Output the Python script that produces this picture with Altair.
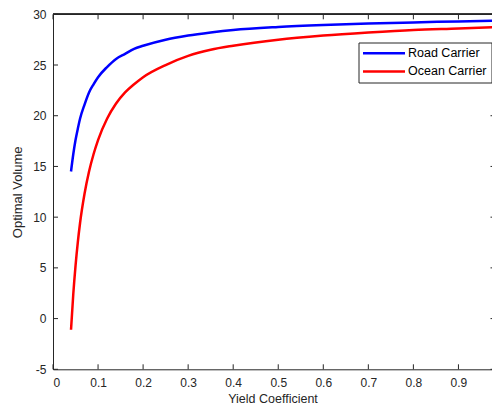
import altair as alt
import pandas as pd

# ---- data ----
yield_coef = [0.04, 0.045, 0.05, 0.055, 0.06, 0.07, 0.08, 0.09, 0.10, 0.12, 0.14,
              0.16, 0.18, 0.20, 0.25, 0.30, 0.35, 0.40, 0.50, 0.60, 0.70, 0.80,
              0.90, 0.99]
road_carrier = [14.5, 16.2, 17.6, 18.7, 19.7, 21.1, 22.3, 23.1, 23.8, 24.8, 25.6,
                26.1, 26.6, 26.9, 27.5, 27.9, 28.2, 28.45, 28.75, 28.95, 29.1, 29.2,
                29.3, 29.37]
ocean_carrier = [-1.1, 2.4, 5.2, 7.5, 9.4, 12.3, 14.5, 16.2, 17.6, 19.7, 21.2,
                 22.3, 23.1, 23.8, 25.0, 25.9, 26.5, 26.9, 27.5, 27.9, 28.2, 28.45,
                 28.6, 28.75]
series_names = ["Road Carrier", "Ocean Carrier"]
series_colors = ["#0000ff", "#ff0000"]
x_ticks = [0, 0.1, 0.2, 0.3, 0.4, 0.5, 0.6, 0.7, 0.8, 0.9]
y_ticks = [-5, 0, 5, 10, 15, 20, 25, 30]

W, H = 439, 355
X_MAX = 0.9745
FONT = "Liberation Sans"
AX = "#262626"

rows = []
for x, r, o in zip(yield_coef, road_carrier, ocean_carrier):
    rows.append({"x": x, "y": r, "series": series_names[0]})
    rows.append({"x": x, "y": o, "series": series_names[1]})
df = pd.DataFrame(rows)
xt = pd.DataFrame({"t": x_ticks})
yt = pd.DataFrame({"t": y_ticks})

xscale = alt.Scale(domain=[0, X_MAX], nice=False, zero=False)
yscale = alt.Scale(domain=[-5, 30], nice=False, zero=False)

lines = alt.Chart(df).mark_line(strokeWidth=2.5, interpolate="monotone", clip=True).encode(
    x=alt.X("x:Q", scale=xscale,
            axis=alt.Axis(values=x_ticks, title="Yield Coefficient",
                          titleBaseline="alphabetic", titleY=33.4,
                          labelExpr="datum.value == 0 ? '0' : format(datum.value, '.1f')")),
    y=alt.Y("y:Q", scale=yscale,
            axis=alt.Axis(values=y_ticks, title="Optimal Volume",
                          labelExpr="datum.value < 0 ? '-' + (-datum.value) : '' + datum.value")),
    color=alt.Color("series:N",
                    scale=alt.Scale(domain=series_names, range=series_colors),
                    sort=series_names,
                    legend=alt.Legend(title=None, orient="none", legendX=305.5, legendY=28.2,
                                      fillColor="white", strokeColor=AX, padding=4.5,
                                      symbolType="M-5.25,0L5.25,0", symbolSize=64,
                                      symbolStrokeWidth=2.5, symbolOffset=14.75,
                                      labelFontSize=12.5, labelFont=FONT,
                                      labelColor="#000000", labelOffset=17.75,
                                      rowPadding=5.2)),
    detail="series:N",
)

bottom_ticks = alt.Chart(xt).mark_rule(color=AX, strokeWidth=1).encode(
    x=alt.X("t:Q", scale=xscale), y=alt.value(H), y2=alt.value(H - 5))
top_ticks = alt.Chart(xt).mark_rule(color=AX, strokeWidth=1).encode(
    x=alt.X("t:Q", scale=xscale), y=alt.value(0), y2=alt.value(5))
left_ticks = alt.Chart(yt).mark_rule(color=AX, strokeWidth=1).encode(
    y=alt.Y("t:Q", scale=yscale), x=alt.value(0), x2=alt.value(5))
right_ticks = alt.Chart(yt).mark_rule(color=AX, strokeWidth=1).encode(
    y=alt.Y("t:Q", scale=yscale), x=alt.value(W - 1.5), x2=alt.value(W))
top_border = alt.Chart(xt).mark_rule(color=AX, strokeWidth=1).encode(
    x=alt.value(0), x2=alt.value(W), y=alt.value(0))

chart = alt.layer(lines, bottom_ticks, top_ticks, left_ticks, right_ticks, top_border).properties(
    width=W, height=H,
    autosize=alt.AutoSizeParams(type="none"),
    padding={"left": 45, "top": 6.3, "right": 0, "bottom": 36.2},
).configure_view(stroke=None).configure_axis(
    domainColor=AX, domainWidth=1, ticks=False, grid=False,
    labelFont=FONT, labelFontSize=12, labelColor=AX,
    titleFont=FONT, titleFontSize=13, titleFontWeight="normal", titleColor=AX,
).configure_axisX(labelPadding=8.5, titleFontSize=12.5).configure_axisY(
    labelPadding=7, titlePadding=8)

chart.save("out.html", embed_options={"renderer": "svg", "actions": False})
